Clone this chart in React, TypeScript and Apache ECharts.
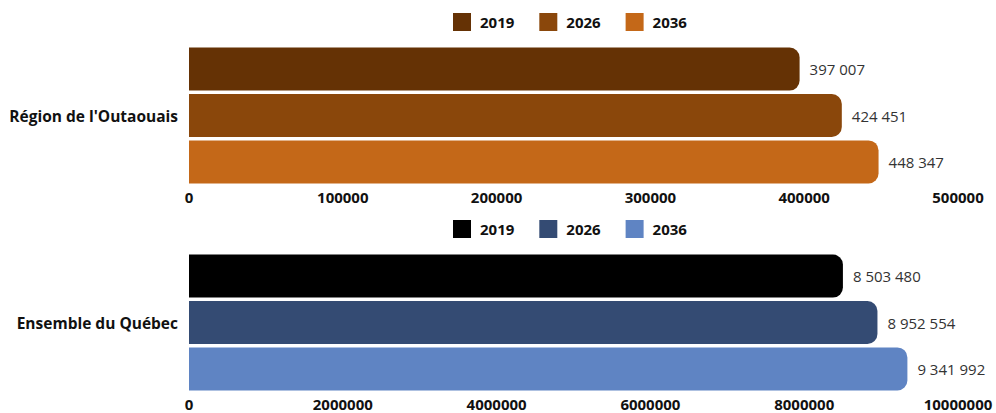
import React, { useEffect, useRef } from "react";
import * as echarts from "echarts";

const years = ["2019", "2026", "2036"];
const topCategory = ["Région de l'Outaouais"];
const topValues = [397007, 424451, 448347];
const topColors = ["#653205", "#8A470B", "#C46818"];
const topMax = 500000;
const topInterval = 100000;

const bottomCategory = ["Ensemble du Québec"];
const bottomValues = [8503480, 8952554, 9341992];
const bottomColors = ["#000000", "#344B73", "#5F84C3"];
const bottomMax = 10000000;
const bottomInterval = 2000000;

const FONT = "'Open Sans', sans-serif";

function fmt(v: number): string {
  return String(v).replace(/\B(?=(\d{3})+(?!\d))/g, " ");
}

function buildOption(
  category: string[],
  values: number[],
  colors: string[],
  max: number,
  interval: number,
  offsetY: number
) {
  return {
    animation: false,
    legend: {
      top: 8 + offsetY,
      left: 448,
      itemWidth: 18,
      itemHeight: 18,
      itemGap: 25,
      icon: "rect",
      data: years,
      textStyle: { fontFamily: FONT, fontWeight: "bold", fontSize: 15, color: "#111", padding: [0, 0, 0, 4] },
    },
    grid: { left: 189, right: 38, top: 46 + offsetY, height: 139, containLabel: false },
    xAxis: {
      type: "value",
      min: 0,
      max,
      interval,
      axisLine: { show: false },
      axisTick: { show: false },
      splitLine: { show: false },
      axisLabel: {
        fontFamily: FONT,
        fontWeight: "bold",
        fontSize: 15,
        lineHeight: 14,
        color: "#111",
        margin: 5,
        formatter: (v: number) => String(v),
      },
    },
    yAxis: {
      type: "category",
      data: category,
      inverse: true,
      axisLine: { show: false },
      axisTick: { show: false },
      axisLabel: { fontFamily: FONT, fontWeight: "bold", fontSize: 15.5, color: "#111", margin: 11 },
    },
    series: years.map((y, i) => ({
      name: y,
      type: "bar",
      data: [values[i]],
      barWidth: 43,
      barGap: "8%",
      itemStyle: { color: colors[i], borderRadius: [0, 10, 10, 0] },
      label: {
        show: true,
        position: "right",
        distance: 10,
        fontFamily: FONT,
        fontSize: 15,
        color: "#333333",
        formatter: (p: any) => fmt(p.value),
      },
    })),
  };
}

function Chart({ option }: { option: any }) {
  const ref = useRef<HTMLDivElement>(null);
  useEffect(() => {
    if (!ref.current) return;
    const chart = echarts.init(ref.current, undefined, { renderer: "svg" });
    chart.setOption(option);
    return () => chart.dispose();
  }, [option]);
  return <div ref={ref} style={{ position: "absolute", left: 0, top: 0, width: 996, height: 413 }} />;
}

const topOption = buildOption(topCategory, topValues, topColors, topMax, topInterval, 0);
const bottomOption = buildOption(bottomCategory, bottomValues, bottomColors, bottomMax, bottomInterval, 207);

export default function App() {
  return (
    <div style={{ position: "absolute", left: 0, top: 0, width: 996, height: 413, background: "#fff" }}>
      <Chart option={topOption} />
      <Chart option={bottomOption} />
    </div>
  );
}
